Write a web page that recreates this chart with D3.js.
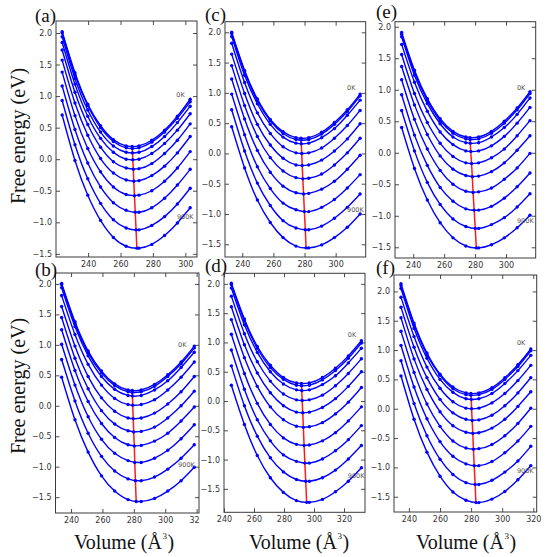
<!DOCTYPE html>
<html><head><meta charset="utf-8">
<script src="https://cdn.jsdelivr.net/npm/d3@7"></script>
<style>body{margin:0;background:#fff}svg{display:block}</style>
</head><body>
<svg id="chart" width="550" height="557"></svg>
<script>
const temperatures = ["0K","100K","200K","300K","400K","500K","600K","700K","800K","900K"];
const xTicksTop = [240, 260, 280, 300];
const xTicksBottom = [240, 260, 280, 300, 320];
const yTicks = [-1.5, -1.0, -0.5, 0.0, 0.5, 1.0, 1.5, 2.0];

// ---- panel (a)
const volA = [224.0, 231.9, 239.8, 247.7, 255.6, 263.5, 271.4, 279.3, 287.2, 295.1, 303.0];
const freeA = [
 [2.02, 1.37, 0.87, 0.53, 0.31, 0.21, 0.21, 0.30, 0.46, 0.68, 0.95],
 [2.00, 1.34, 0.85, 0.50, 0.28, 0.18, 0.18, 0.27, 0.43, 0.65, 0.91],
 [1.94, 1.28, 0.78, 0.43, 0.21, 0.11, 0.11, 0.20, 0.36, 0.58, 0.84],
 [1.85, 1.19, 0.68, 0.33, 0.11, 0.00, 0.00, 0.09, 0.25, 0.46, 0.72],
 [1.73, 1.06, 0.55, 0.19, -0.04, -0.14, -0.15, -0.07, 0.09, 0.30, 0.56],
 [1.57, 0.89, 0.38, 0.01, -0.22, -0.33, -0.34, -0.26, -0.11, 0.10, 0.36],
 [1.38, 0.69, 0.17, -0.20, -0.44, -0.56, -0.57, -0.50, -0.35, -0.14, 0.12],
 [1.16, 0.47, -0.06, -0.44, -0.69, -0.81, -0.84, -0.77, -0.62, -0.41, -0.16],
 [0.93, 0.23, -0.31, -0.70, -0.96, -1.09, -1.12, -1.05, -0.91, -0.71, -0.46],
 [0.70, -0.02, -0.57, -0.97, -1.24, -1.38, -1.41, -1.35, -1.21, -1.01, -0.77]
];
const minVolA = [267.2, 267.3, 267.4, 267.6, 267.9, 268.2, 268.6, 269.1, 269.6, 270.1];
const minFreeA = [0.20, 0.17, 0.10, -0.01, -0.16, -0.35, -0.58, -0.84, -1.12, -1.41];
const noteA = [[294.4, 0.99], [294.8, -0.95]];

// ---- panel (b)
const volB = [234.0, 242.5, 250.9, 259.4, 267.8, 276.3, 284.7, 293.2, 301.6, 310.1, 318.5];
const freeB = [
 [2.01, 1.38, 0.90, 0.57, 0.36, 0.26, 0.26, 0.35, 0.51, 0.72, 0.98],
 [1.99, 1.35, 0.87, 0.54, 0.33, 0.23, 0.23, 0.32, 0.48, 0.69, 0.95],
 [1.94, 1.30, 0.82, 0.48, 0.27, 0.17, 0.17, 0.26, 0.41, 0.63, 0.88],
 [1.81, 1.17, 0.68, 0.34, 0.12, 0.02, 0.02, 0.10, 0.26, 0.47, 0.72],
 [1.63, 0.98, 0.48, 0.13, -0.09, -0.20, -0.20, -0.12, 0.03, 0.23, 0.48],
 [1.45, 0.78, 0.28, -0.08, -0.30, -0.41, -0.42, -0.35, -0.20, 0.00, 0.24],
 [1.25, 0.58, 0.07, -0.29, -0.52, -0.64, -0.65, -0.58, -0.45, -0.25, -0.02],
 [1.01, 0.34, -0.18, -0.55, -0.78, -0.90, -0.93, -0.86, -0.73, -0.54, -0.31],
 [0.76, 0.08, -0.45, -0.83, -1.07, -1.20, -1.23, -1.17, -1.04, -0.86, -0.64],
 [0.47, -0.23, -0.76, -1.15, -1.40, -1.54, -1.57, -1.52, -1.40, -1.23, -1.01]
];
const minVolB = [279.0, 279.0, 279.1, 279.3, 279.6, 279.9, 280.3, 280.6, 281.0, 281.5];
const minFreeB = [0.25, 0.22, 0.16, 0.01, -0.21, -0.43, -0.66, -0.93, -1.23, -1.57];
const noteB = [[308.2, 0.96], [308.2, -1.01]];

// ---- panel (c)
const volC = [233.2, 241.5, 249.7, 258.0, 266.2, 274.5, 282.7, 291.0, 299.2, 307.5, 315.7];
const freeC = [
 [2.00, 1.37, 0.90, 0.56, 0.36, 0.26, 0.26, 0.35, 0.51, 0.72, 0.98],
 [1.98, 1.35, 0.87, 0.54, 0.33, 0.23, 0.23, 0.32, 0.48, 0.69, 0.95],
 [1.93, 1.29, 0.82, 0.48, 0.27, 0.17, 0.17, 0.26, 0.41, 0.63, 0.88],
 [1.82, 1.17, 0.67, 0.33, 0.11, 0.01, 0.01, 0.09, 0.25, 0.46, 0.71],
 [1.64, 0.99, 0.48, 0.14, -0.08, -0.19, -0.19, -0.11, 0.04, 0.24, 0.49],
 [1.45, 0.79, 0.28, -0.07, -0.29, -0.40, -0.41, -0.34, -0.19, 0.01, 0.25],
 [1.23, 0.57, 0.05, -0.31, -0.54, -0.65, -0.66, -0.59, -0.46, -0.26, -0.03],
 [0.98, 0.31, -0.22, -0.58, -0.82, -0.93, -0.96, -0.89, -0.76, -0.57, -0.35],
 [0.72, 0.04, -0.49, -0.86, -1.11, -1.23, -1.26, -1.20, -1.07, -0.89, -0.67],
 [0.44, -0.24, -0.77, -1.14, -1.39, -1.53, -1.56, -1.51, -1.39, -1.22, -1.00]
];
const minVolC = [277.7, 277.8, 277.9, 278.2, 278.5, 278.9, 279.4, 279.9, 280.5, 281.0];
const minFreeC = [0.25, 0.22, 0.16, 0.00, -0.20, -0.42, -0.67, -0.96, -1.26, -1.56];
const noteC = [[307.3, 1.04], [307.3, -0.97]];

// ---- panel (d)
const volD = [244.9, 253.6, 262.2, 270.9, 279.6, 288.3, 296.9, 305.6, 314.3, 322.9, 331.6];
const freeD = [
 [2.01, 1.40, 0.93, 0.61, 0.40, 0.31, 0.31, 0.40, 0.56, 0.77, 1.03],
 [1.99, 1.37, 0.90, 0.57, 0.37, 0.27, 0.27, 0.36, 0.52, 0.73, 0.99],
 [1.93, 1.30, 0.83, 0.50, 0.29, 0.19, 0.19, 0.28, 0.43, 0.65, 0.90],
 [1.79, 1.15, 0.67, 0.34, 0.12, 0.02, 0.02, 0.10, 0.26, 0.47, 0.72],
 [1.61, 0.96, 0.48, 0.14, -0.08, -0.19, -0.19, -0.11, 0.04, 0.25, 0.50],
 [1.39, 0.74, 0.25, -0.10, -0.32, -0.43, -0.44, -0.37, -0.22, -0.02, 0.23],
 [1.14, 0.47, -0.04, -0.40, -0.63, -0.74, -0.75, -0.68, -0.54, -0.34, -0.10],
 [0.87, 0.20, -0.32, -0.68, -0.92, -1.03, -1.06, -0.99, -0.85, -0.66, -0.42],
 [0.60, -0.08, -0.60, -0.97, -1.21, -1.34, -1.37, -1.31, -1.18, -0.99, -0.76],
 [0.27, -0.40, -0.93, -1.31, -1.56, -1.70, -1.73, -1.68, -1.55, -1.37, -1.14]
];
const minVolD = [291.6, 291.7, 291.8, 292.1, 292.5, 292.9, 293.4, 293.9, 294.5, 295.1];
const minFreeD = [0.30, 0.26, 0.18, 0.01, -0.20, -0.45, -0.76, -1.06, -1.37, -1.73];
const noteD = [[322.5, 1.09], [322.5, -1.31]];

// ---- panel (e)
const volE = [232.5, 240.8, 249.1, 257.4, 265.7, 274.0, 282.3, 290.6, 298.9, 307.2, 315.5];
const freeE = [
 [1.91, 1.31, 0.86, 0.54, 0.34, 0.25, 0.25, 0.34, 0.50, 0.71, 0.97],
 [1.88, 1.28, 0.83, 0.51, 0.31, 0.22, 0.22, 0.31, 0.47, 0.68, 0.94],
 [1.84, 1.23, 0.78, 0.46, 0.25, 0.16, 0.16, 0.25, 0.40, 0.61, 0.87],
 [1.72, 1.12, 0.66, 0.33, 0.13, 0.03, 0.03, 0.11, 0.26, 0.47, 0.72],
 [1.56, 0.94, 0.48, 0.15, -0.06, -0.16, -0.16, -0.08, 0.06, 0.27, 0.51],
 [1.37, 0.76, 0.29, -0.05, -0.26, -0.36, -0.37, -0.30, -0.16, 0.04, 0.27],
 [1.16, 0.53, 0.06, -0.28, -0.50, -0.61, -0.62, -0.56, -0.42, -0.24, -0.01],
 [0.92, 0.28, -0.20, -0.55, -0.77, -0.89, -0.91, -0.85, -0.72, -0.54, -0.32],
 [0.67, 0.03, -0.47, -0.82, -1.05, -1.17, -1.20, -1.14, -1.03, -0.86, -0.65],
 [0.40, -0.25, -0.75, -1.11, -1.35, -1.48, -1.51, -1.46, -1.35, -1.19, -0.99]
];
const minVolE = [276.7, 276.8, 276.9, 277.2, 277.7, 278.2, 278.7, 279.4, 280.1, 280.8];
const minFreeE = [0.24, 0.21, 0.15, 0.02, -0.17, -0.38, -0.63, -0.91, -1.20, -1.51];
const noteE = [[307.1, 1.00], [307.1, -1.11]];

// ---- panel (f)
const volF = [234.9, 243.3, 251.6, 260.0, 268.3, 276.7, 285.0, 293.4, 301.7, 310.1, 318.4];
const freeF = [
 [2.13, 1.46, 0.95, 0.59, 0.37, 0.27, 0.27, 0.36, 0.53, 0.75, 1.02],
 [2.10, 1.43, 0.92, 0.57, 0.34, 0.24, 0.24, 0.33, 0.50, 0.72, 0.99],
 [2.05, 1.37, 0.86, 0.50, 0.28, 0.17, 0.17, 0.26, 0.43, 0.65, 0.91],
 [1.90, 1.23, 0.71, 0.35, 0.12, 0.01, 0.01, 0.10, 0.26, 0.48, 0.74],
 [1.73, 1.05, 0.53, 0.16, -0.07, -0.18, -0.19, -0.11, 0.05, 0.27, 0.53],
 [1.55, 0.85, 0.33, -0.05, -0.29, -0.40, -0.41, -0.33, -0.18, 0.04, 0.29],
 [1.32, 0.62, 0.08, -0.30, -0.55, -0.67, -0.68, -0.61, -0.46, -0.25, 0.01],
 [1.08, 0.37, -0.17, -0.56, -0.81, -0.94, -0.97, -0.90, -0.75, -0.55, -0.30],
 [0.82, 0.09, -0.46, -0.86, -1.12, -1.26, -1.29, -1.22, -1.08, -0.89, -0.64],
 [0.56, -0.18, -0.74, -1.15, -1.42, -1.56, -1.60, -1.54, -1.41, -1.21, -0.97]
];
const minVolF = [279.9, 279.9, 280.1, 280.3, 280.7, 281.1, 281.5, 282.0, 282.6, 283.1];
const minFreeF = [0.26, 0.23, 0.16, 0.00, -0.20, -0.42, -0.69, -0.97, -1.29, -1.60];
const noteF = [[309.5, 1.08], [309.5, -1.10]];

const panelLabels = ["(a)", "(b)", "(c)", "(d)", "(e)", "(f)"];
const yTitle = "Free energy (eV)";
const xTitle = "Volume (Å";

// ---- layout (pixel boxes and axis ranges)
const panels = [
 {tag: panelLabels[0], vol: volA, free: freeA, mv: minVolA, mf: minFreeA, notes: noteA,
  box: [56, 21, 197, 257], xd: [220.2, 307.2], yd: [-1.55, 2.19], xt: xTicksTop, tagPos: [35, 22], clip: [0, 200]},
 {tag: panelLabels[1], vol: volB, free: freeB, mv: minVolB, mf: minFreeB, notes: noteB,
  box: [55.5, 273, 199, 513], xd: [230.1, 321.5], yd: [-1.76, 2.18], xt: xTicksBottom, tagPos: [35, 276], clip: [0, 200]},
 {tag: panelLabels[2], vol: volC, free: freeC, mv: minVolC, mf: minFreeC, notes: noteC,
  box: [225, 21.7, 365.7, 257], xd: [228.9, 319.3], yd: [-1.71, 2.175], xt: xTicksTop, tagPos: [205, 21], clip: null},
 {tag: panelLabels[3], vol: volD, free: freeD, mv: minVolD, mf: minFreeD, notes: noteD,
  box: [224, 273.3, 365, 512.3], xd: [240, 334], yd: [-1.90, 2.18], xt: xTicksBottom, tagPos: [205, 272], clip: null},
 {tag: panelLabels[4], vol: volE, free: freeE, mv: minVolE, mf: minFreeE, notes: noteE,
  box: [395, 21.7, 535.7, 258], xd: [228.2, 319.2], yd: [-1.67, 2.08], xt: xTicksTop, tagPos: [376, 18], clip: null},
 {tag: panelLabels[5], vol: volF, free: freeF, mv: minVolF, mf: minFreeF, notes: noteF,
  box: [394, 275, 536.7, 512], xd: [230.4, 322.2], yd: [-1.76, 2.28], xt: xTicksBottom, tagPos: [376, 274], clip: null}
];

const svg = d3.select("#chart");
const BLUE = "#0000ff", RED = "#ff1a1a", AX = "#3a3a3a";
const tickFont = "DejaVu Sans, sans-serif";
const serif = "Liberation Serif, Times New Roman, serif";

panels.forEach((p, pi) => {
  const g = svg.append("g");
  if (p.clip) {
    const id = "clip" + pi;
    svg.append("clipPath").attr("id", id).append("rect")
      .attr("x", p.clip[0]).attr("y", 0).attr("width", p.clip[1] - p.clip[0]).attr("height", 557);
    g.attr("clip-path", `url(#${id})`);
  }
  const [L, T, R, B] = p.box;
  const x = d3.scaleLinear().domain(p.xd).range([L, R]);
  const y = d3.scaleLinear().domain(p.yd).range([B, T]);

  g.append("rect").attr("x", L).attr("y", T).attr("width", R - L).attr("height", B - T)
    .attr("fill", "none").attr("stroke", AX).attr("stroke-width", 1);

  const styleAxis = sel => {
    sel.select(".domain").remove();
    sel.selectAll(".tick line").attr("stroke", AX).attr("stroke-width", 0.9);
    sel.selectAll(".tick text").attr("fill", "#333").attr("font-family", tickFont)
      .attr("font-size", 8);
  };
  g.append("g").attr("transform", `translate(0,${B})`)
    .call(d3.axisBottom(x).tickValues(p.xt).tickSize(-4).tickPadding(4).tickFormat(d3.format("d")))
    .call(styleAxis);
  g.append("g").attr("transform", `translate(0,${T})`)
    .call(d3.axisTop(x).tickValues(p.xt).tickSize(-4).tickFormat(""))
    .call(styleAxis);
  const yt = yTicks.filter(v => v >= p.yd[0] && v <= p.yd[1]);
  g.append("g").attr("transform", `translate(${L},0)`)
    .call(d3.axisLeft(y).tickValues(yt).tickSize(-4).tickPadding(4).tickFormat(d3.format(".1f")))
    .call(styleAxis);
  g.append("g").attr("transform", `translate(${R},0)`)
    .call(d3.axisRight(y).tickValues(yt).tickSize(-4).tickFormat(""))
    .call(styleAxis);

  const line = d3.line().x(d => x(d[0])).y(d => y(d[1])).curve(d3.curveNatural);
  const series = p.free.map(row => row.map((e, k) => [p.vol[k], e]));
  g.append("g").selectAll("path.curve").data(series).join("path")
    .attr("class", "curve").attr("d", line)
    .attr("fill", "none").attr("stroke", BLUE).attr("stroke-width", 1.4);

  const mins = p.mv.map((v, i) => [v, p.mf[i]]);
  g.append("path").attr("d", d3.line().x(d => x(d[0])).y(d => y(d[1]))(mins))
    .attr("fill", "none").attr("stroke", RED).attr("stroke-width", 1.5);

  const pts = series.flat();
  g.append("g").selectAll("circle").data(pts).join("circle")
    .attr("cx", d => x(d[0])).attr("cy", d => y(d[1])).attr("r", 1.7).attr("fill", BLUE);
  g.append("g").selectAll("circle").data(mins).join("circle")
    .attr("cx", d => x(d[0])).attr("cy", d => y(d[1])).attr("r", 1.7).attr("fill", BLUE);

  g.append("text").attr("x", x(p.notes[0][0])).attr("y", y(p.notes[0][1]))
    .attr("font-family", tickFont).attr("font-size", 6.5).attr("fill", "#555").text(temperatures[0]);
  g.append("text").attr("x", x(p.notes[1][0])).attr("y", y(p.notes[1][1]))
    .attr("font-family", tickFont).attr("font-size", 6.5).attr("fill", "#555").text(temperatures[9]);

  svg.append("text").attr("x", p.tagPos[0]).attr("y", p.tagPos[1])
    .attr("font-family", serif).attr("font-size", 19).attr("fill", "#111").text(p.tag);
});

[136, 386].forEach(cy => {
  svg.append("text").attr("transform", `translate(25,${cy}) rotate(-90)`)
    .attr("text-anchor", "middle").attr("font-family", serif).attr("font-size", 20)
    .attr("fill", "#111").text(yTitle);
});
[124, 299, 466].forEach(cx => {
  const t = svg.append("text").attr("x", cx).attr("y", 549)
    .attr("text-anchor", "middle").attr("font-family", serif).attr("font-size", 20).attr("fill", "#111");
  t.append("tspan").text(xTitle);
  t.append("tspan").attr("font-size", 9).attr("dy", -10).attr("dx", 0.5).text("3");
  t.append("tspan").attr("dy", 10).attr("dx", 0.5).text(")");
});
</script>
</body></html>
